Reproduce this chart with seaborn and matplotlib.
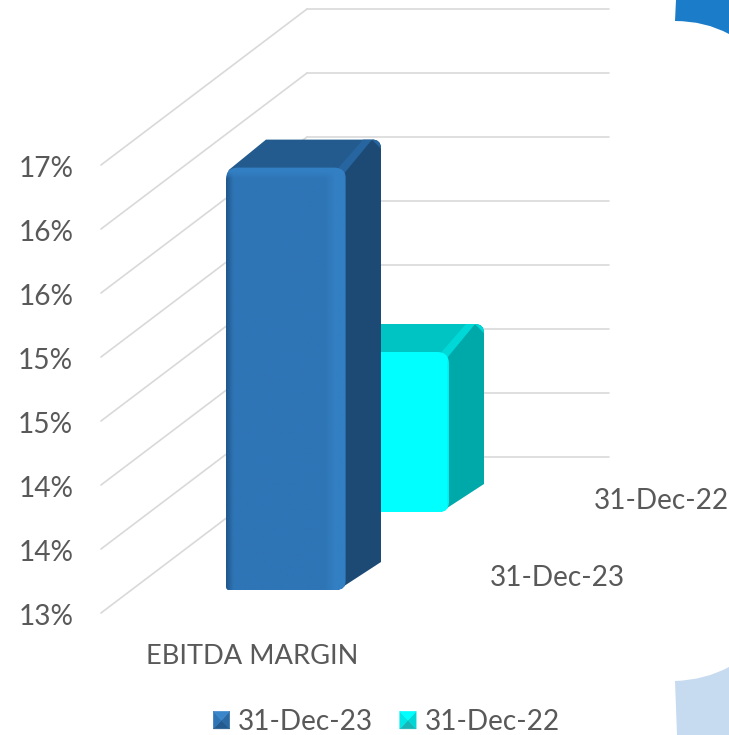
# Recreate the 3D style EBITDA margin column chart
import numpy as np
import pandas as pd
import matplotlib
matplotlib.use('Agg')
import matplotlib.pyplot as plt
import seaborn as sns
from matplotlib.colors import to_rgb
from matplotlib.legend_handler import HandlerBase
from matplotlib.patches import Patch, PathPatch, Polygon
from matplotlib.path import Path
from matplotlib.transforms import ScaledTranslation

# Data
category = ['EBITDA MARGIN']
series_names = ['31-Dec-23', '31-Dec-22']
series_values = [16.30, 14.25]
axis_ticks = [13.0, 13.5, 14.0, 14.5, 15.0, 15.5, 16.0, 16.5]
tick_labels = ['13%', '14%', '14%', '15%', '15%', '16%', '16%', '17%']

sns.set_theme(style='white')
plt.rcParams['font.family'] = ['Lato', 'DejaVu Sans']
TEXT = '#595959'
GRID = '#d9d9d9'

W, H = 729, 735
FRONT_Y = 613      # pixel row of the axis minimum
PX_PER_PCT = 128.0
fig = plt.figure(figsize=(W / 100, H / 100), dpi=100)
ax = fig.add_axes([101 / W, (H - FRONT_Y) / H, (W - 101) / W, FRONT_Y / H])


def to_val(pixel_y):
    return axis_ticks[0] + (FRONT_Y - pixel_y) / PX_PER_PCT


def rounded_rect(x, y, w, h, r_top, r_left, r_right):
    rt, rl, rr = r_top / PX_PER_PCT, r_left / PX_PER_PCT, r_right / PX_PER_PCT
    verts = [(x + r_left, y), (x + w - r_right, y), (x + w, y), (x + w, y + rr),
             (x + w, y + h - rt), (x + w, y + h), (x + w - r_top, y + h),
             (x + r_top, y + h), (x, y + h), (x, y + h - rt),
             (x, y + rl), (x, y), (x + r_left, y), (x + r_left, y)]
    codes = [Path.MOVETO, Path.LINETO, Path.CURVE3, Path.CURVE3,
             Path.LINETO, Path.CURVE3, Path.CURVE3,
             Path.LINETO, Path.CURVE3, Path.CURVE3,
             Path.LINETO, Path.CURVE3, Path.CURVE3, Path.CLOSEPOLY]
    return Path(verts, codes)


def back_corner(points, cx, cy, last, r=9):
    # outline going over the rounded corner at (cx, cy), then on to the last point
    ry = r / PX_PER_PCT
    verts = points + [(cx, cy - ry), (cx, cy), (cx - r, cy), last]
    codes = [Path.MOVETO] + [Path.LINETO] * (len(points) - 1) + [Path.LINETO, Path.CURVE3, Path.CURVE3, Path.LINETO]
    return Path(verts, codes)


def front_image(w, h, base, dark, light):
    # pixel shading of the front face, bevels on the edges
    xs = np.arange(w)
    stops = [0, 7, w - 22, w - 12, w - 3, w - 1]
    rows = np.zeros((h, w, 3))
    colours = [dark, base, base, light, light, dark]
    for c in range(3):
        rows[:, :, c] = np.interp(xs, stops, [to_rgb(k)[c] for k in colours])
    band = np.clip((11 - np.arange(h)) / 7, 0, 1)[:, None, None]
    rows = rows * (1 - band) + np.array(to_rgb(light))[None, None, :] * band
    return rows


# Walls: one diagonal and one back line per tick
for t in axis_ticks:
    back = t + 156 / PX_PER_PCT
    ax.plot([101, 307], [t, back], color=GRID, lw=1.2, clip_on=False, zorder=1)
    ax.plot([307, 609], [back, back], color=GRID, lw=1.2, zorder=1)

# name: front, top, corner facet, side, dark edge, light bevel
styles = {
    '31-Dec-23': ('#2e75b6', '#235b8e', '#26659f', '#1d4a75', '#21578c', '#337fc3'),
    '31-Dec-22': ('#00ffff', '#00c4c4', '#00d8d8', '#00a9a9', '#00eeee', '#00ffff'),
}
BAR_W, DX, DY = 120, 35, 28
frame = pd.DataFrame({'series': series_names, 'value': series_values})

# back series first so the front one covers it
for i in [1, 0]:
    row = frame.iloc[i]
    front, top, facet, side, dark, light = styles[row['series']]
    base = to_val(590) + i * 78 / PX_PER_PCT
    left = 226 + i * 103
    sns.barplot(x=[left + BAR_W / 2], y=[row['value'] - axis_ticks[0]], bottom=base,
                native_scale=True, width=BAR_W, color=front, saturation=1, ax=ax, zorder=3)
    bar = ax.patches[-1]
    x0, y0, y1 = bar.get_x(), bar.get_y(), bar.get_y() + bar.get_height()
    x1 = x0 + bar.get_width()
    d = DY / PX_PER_PCT
    z = 3 + (1 - i)
    bx, by = x1 + DX, y1 + d

    # side face, top face, lighter facet at the back corner
    ax.add_patch(PathPatch(back_corner([(x1 - 8, y0), (bx, y0 + d)], bx, by, (x1 - 10, y1)),
                           fc=side, ec='none', zorder=z))
    ax.add_patch(PathPatch(back_corner([(x0 + 2, y1 - 3 / PX_PER_PCT), (x0 + DX + 5, by), (bx - 9, by)],
                                       bx, by, (x1 - 3, y1 - 4 / PX_PER_PCT)),
                           fc=top, ec='none', zorder=z))
    ax.add_patch(PathPatch(back_corner([(x1 - 10, y1 - 3 / PX_PER_PCT), (bx - 18, by), (bx - 9, by)],
                                       bx, by, (x1 - 2, y1 - 6 / PX_PER_PCT)),
                           fc=facet, ec='none', zorder=z))

    outline = PathPatch(rounded_rect(x0, y0, BAR_W, y1 - y0, 12, 3, 10), fc='none', ec='none', zorder=z + 0.1)
    ax.add_patch(outline)
    bar.set_clip_path(outline)
    h_px = int(round((y1 - y0) * PX_PER_PCT))
    img = ax.imshow(front_image(BAR_W, h_px, front, dark, light), extent=(x0, x1, y0, y1),
                    aspect='auto', interpolation='bilinear', zorder=z + 0.2)
    img.set_clip_path(outline)

ax.set_xlim(101, W)
ax.set_ylim(axis_ticks[0], to_val(0))
ax.set_xlabel('')
ax.set_ylabel('')
sns.despine(ax=ax, left=True, bottom=True)

ax.set_yticks(axis_ticks)
ax.set_yticklabels(tick_labels, fontsize=20.2, color=TEXT)
ax.tick_params(axis='y', length=0, pad=20)
down = ScaledTranslation(0, -3 / 72, fig.dpi_scale_trans)
for lab in ax.get_yticklabels():
    lab.set_verticalalignment('center')
    lab.set_transform(lab.get_transform() + down)
ax.set_xticks([252.5])
ax.set_xticklabels(category, fontsize=19.6, color=TEXT)
ax.tick_params(axis='x', length=0, pad=22)

# Series axis labels on the depth axis
ax.text(557.5, to_val(578), series_names[0], fontsize=20.2, color=TEXT, ha='center', va='center', clip_on=False)
ax.text(661, to_val(501), series_names[1], fontsize=20.2, color=TEXT, ha='center', va='center', clip_on=False)

# Decoration shapes at the right edge of the slide
top_arc = Path([(676, to_val(0)), (675, to_val(21)), (705, to_val(21)), (W, to_val(34)),
                (W, to_val(0)), (676, to_val(0))],
               [Path.MOVETO, Path.LINETO, Path.CURVE3, Path.CURVE3, Path.LINETO, Path.CLOSEPOLY])
ax.add_patch(PathPatch(top_arc, fc='#1b7dc9', ec='none', clip_on=False, zorder=0))
low_arc = Path([(675, to_val(681)), (705, to_val(680)), (W, to_val(667)), (W, to_val(H)),
                (677, to_val(H)), (675, to_val(681))],
               [Path.MOVETO, Path.CURVE3, Path.CURVE3, Path.LINETO, Path.LINETO, Path.CLOSEPOLY])
ax.add_patch(PathPatch(low_arc, fc='#c6dbf0', ec='none', clip_on=False, zorder=0))


class PyramidHandler(HandlerBase):
    # legend key split in four shaded triangles
    shades = {'31-Dec-23': ['#3a86cb', '#2e75b6', '#235b8e', '#2a69a3'],
              '31-Dec-22': ['#00ffff', '#00e6e6', '#17b5b5', '#00d6d6']}

    def create_artists(self, legend, orig, xd, yd, width, height, fontsize, trans):
        x, y = -xd, -yd
        c = (x + width / 2, y + height / 2)
        corners = [(x, y + height), (x + width, y + height), (x + width, y), (x, y)]
        order = [(2, 3, 2), (3, 0, 1), (1, 2, 3), (0, 1, 0)]
        out = []
        for a, b, s in order:
            colour = self.shades[orig.get_label()][s]
            out.append(Polygon([corners[a], corners[b], c], fc=colour, ec=colour, lw=0.4, transform=trans))
        return out


handles = [Patch(label=n) for n in series_names]
ax.legend(handles=handles, handler_map={Patch: PyramidHandler()}, loc='center',
          bbox_to_anchor=(386.5 / W, (H - 722) / H), bbox_transform=fig.transFigure,
          ncol=2, frameon=False, fontsize=20.2, labelcolor=TEXT, handlelength=0.58,
          handleheight=0.58, handletextpad=0.3, columnspacing=0.95, borderpad=0, borderaxespad=0)

fig.savefig('out.png', dpi=100, facecolor='white')
